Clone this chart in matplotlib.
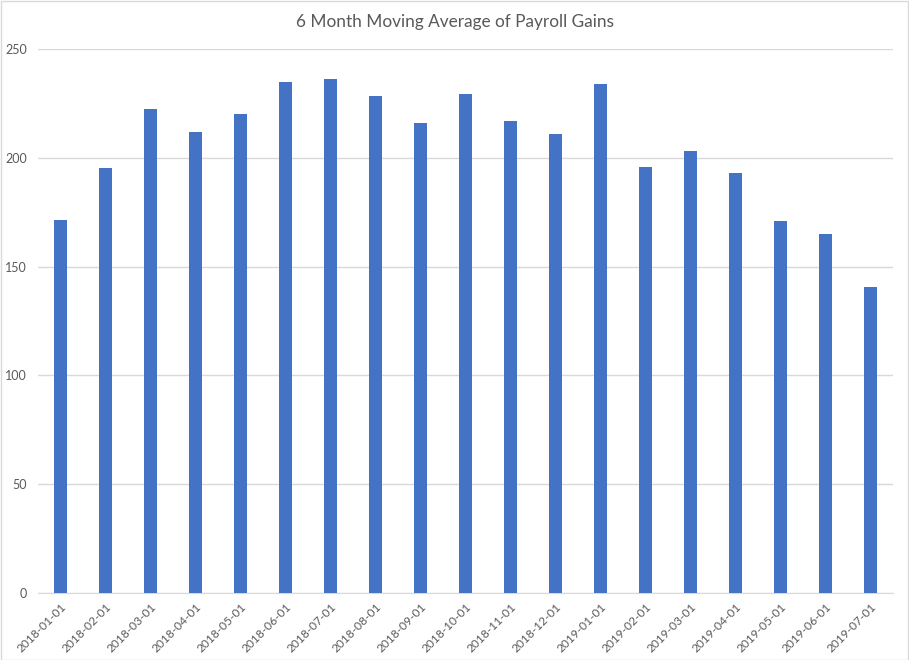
import matplotlib
matplotlib.use("Agg")
import matplotlib.pyplot as plt
from matplotlib.patches import Rectangle

dates = ["2018-01-01", "2018-02-01", "2018-03-01", "2018-04-01", "2018-05-01",
         "2018-06-01", "2018-07-01", "2018-08-01", "2018-09-01", "2018-10-01",
         "2018-11-01", "2018-12-01", "2019-01-01", "2019-02-01", "2019-03-01",
         "2019-04-01", "2019-05-01", "2019-06-01", "2019-07-01"]
values = [171.6, 195.5, 222.6, 212.0, 220.3, 235.0, 236.4, 228.2, 216.2, 229.5,
          217.1, 211.1, 233.7, 196.0, 203.3, 193.2, 171.1, 165.1, 140.8]
yticks = [0, 50, 100, 150, 200, 250]

plt.rcParams['font.family'] = ['Lato', 'DejaVu Sans']

W, H = 909, 660
fig = plt.figure(figsize=(W / 100, H / 100), dpi=100)
ax = fig.add_axes([38 / W, 1 - 593 / H, (893 - 38) / W, (593 - 49) / H])

x = list(range(len(dates)))
ax.bar(x, values, width=0.31, color='#4472C4', zorder=3)
ax.set_xlim(-0.5, len(dates) - 0.5)
ax.set_ylim(0, 250)
ax.set_yticks(yticks)
ax.set_yticklabels([str(t) for t in yticks], color='#595959', fontsize=9)
ax.yaxis.grid(True, color='#D9D9D9', linewidth=1, zorder=0)
ax.tick_params(axis='both', length=0)
ax.tick_params(axis='y', pad=8)
for s in ['top', 'right', 'left']:
    ax.spines[s].set_visible(False)
ax.spines['bottom'].set_color('#D9D9D9')
ax.set_xticks(x)
ax.set_xticklabels(dates, rotation=45, ha='right', rotation_mode='anchor',
                   color='#595959', fontsize=8.6)
ax.tick_params(axis='x', pad=6)

fig.text(0.5, 1 - 22 / H, "6 Month Moving Average of Payroll Gains",
         ha='center', va='center', fontsize=12.4, color='#595959')

fig.patches.append(Rectangle((0.5 / W, 0.5 / H), 1 - 1.5 / W, 1 - 1.5 / H,
                             transform=fig.transFigure, fill=False,
                             edgecolor='#D9D9D9', linewidth=1))

fig.savefig("out.png", dpi=100)
